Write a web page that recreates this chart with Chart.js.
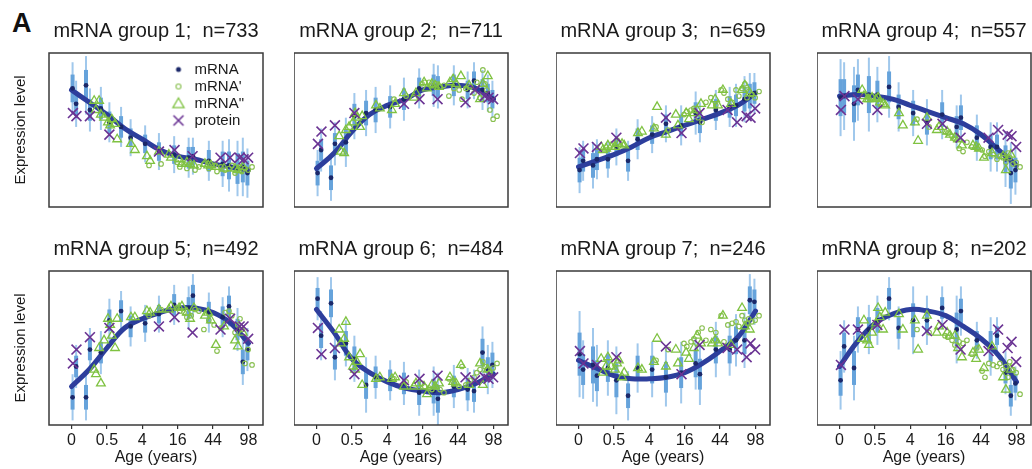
<!DOCTYPE html>
<html><head><meta charset="utf-8">
<script src="https://cdn.jsdelivr.net/npm/chart.js@4.4.1/dist/chart.umd.min.js"></script>
<style>
html,body{margin:0;padding:0;background:#fff;overflow:hidden;}
body{width:1032px;height:469px;position:relative;}
.panel{position:absolute;}
.panel canvas{display:block;}
#lbl{position:absolute;left:12px;top:10px;font:bold 27px "Liberation Sans",Arial,Helvetica,sans-serif;line-height:27px;color:#111;}
</style></head><body>
<div id="lbl">A</div>
<script>
// ---------- shared labels ----------
const ageTicks = ['0', '0.5', '4', '16', '44', '98'];
const seriesNames = ['mRNA', "mRNA'", 'mRNA"', 'protein'];
const groupSizes = [733, 711, 659, 557, 492, 484, 246, 202];

// ---------- sample positions on the age axis (tick units: 0 = "0" ... 5 = "98") ----------
const mrnaX  = [0.03, 0.13, 0.41, 0.52, 0.83, 1.07, 1.40, 1.67, 2.08, 2.47, 2.90, 3.31, 3.43, 3.88, 4.27, 4.45, 4.69, 4.84, 4.97];
const mrna1X = [2.19, 2.53, 2.98, 3.06, 3.18, 3.26, 3.38, 3.49, 3.60, 3.74, 3.88, 4.03, 4.11, 4.22, 4.34, 4.45, 4.53, 4.62, 4.70, 4.76, 4.81, 4.90, 4.99, 5.10];
const mrna2X = [0.64, 0.69, 0.78, 0.83, 0.92, 1.03, 1.09, 1.14, 1.23, 1.29, 1.68, 1.79, 2.13, 2.22, 2.47, 2.75, 2.81, 3.04, 3.12, 3.26, 3.35, 3.46, 3.77, 3.86, 3.94, 4.08, 4.31, 4.62, 4.70, 4.84];
const protX  = [0.04, 0.14, 0.52, 1.07, 2.47, 2.91, 3.42, 4.21, 4.48, 4.75, 4.86, 4.99];
const curveX = [0, 0.5, 1, 1.5, 2, 2.5, 3, 3.5, 4, 4.5, 5];

// ---------- group 1 ----------
const g1Mrna     = [77, 67, 79, 63, 64, 55, 52, 45, 41, 36, 34, 32, 33, 30, 28, 27, 25, 26, 22];
const g1ErrOuter = [17, 15, 19, 14, 14, 13, 13, 12, 12, 12, 12, 13, 12, 13, 15, 17, 18, 19, 16];
const g1ErrInner = [9, 8, 10, 7, 7, 7, 7, 6, 6, 6, 6, 7, 6, 7, 8, 9, 10, 10, 8];
const g1Mrna1    = [27, 28, 29, 26, 28, 25, 27, 24, 26, 28, 25, 27, 23, 26, 24, 25, 27, 22, 24, 26, 23, 25, 24, 26];
const g1Mrna2    = [69, 63, 69, 60, 58, 55, 53, 57, 54, 44, 41, 37, 33, 30, 36, 34, 32, 31, 28, 29, 28, 27, 28, 27, 27, 26, 25, 25, 24, 26];
const g1Prot     = [61, 59, 59, 47, 36, 37, 33, 32, 32, 32, 31, 32];
const g1Curve    = [76, 68, 60, 51, 44, 37, 33, 31, 28, 26, 24];
// ---------- group 2 ----------
const g2Mrna     = [22, 37, 19, 41, 42, 59, 61, 63, 65, 70, 77, 79, 78, 79, 76, 82, 76, 74, 70];
const g2ErrOuter = [15, 14, 15, 14, 16, 15, 15, 15, 14, 14, 13, 14, 14, 13, 12, 12, 13, 12, 12];
const g2ErrInner = [8, 7, 8, 7, 8, 8, 8, 8, 7, 7, 7, 7, 7, 7, 6, 6, 7, 6, 6];
const g2Mrna1    = [70, 72, 80, 81, 81, 79, 80, 78, 79, 72, 77, 76, 70, 77, 78, 74, 81, 71, 89, 80, 76, 63, 57, 59];
const g2Mrna2    = [46, 36, 35, 50, 52, 55, 61, 58, 52, 59, 66, 64, 63, 67, 74, 71, 74, 81, 77, 80, 79, 78, 81, 83, 80, 85, 79, 70, 80, 85];
const g2Prot     = [41, 49, 53, 61, 67, 70, 70, 68, 76, 72, 71, 70];
const g2Curve    = [25, 35, 49, 60, 66, 70, 76, 78, 79, 77, 70];
// ---------- group 3 ----------
const g3Mrna     = [24, 30, 27, 31, 31, 39, 30, 44, 47, 54, 53, 61, 55, 63, 65, 66, 70, 72, 74];
const g3ErrOuter = [15, 13, 15, 13, 12, 12, 13, 13, 12, 12, 13, 14, 13, 13, 13, 14, 15, 15, 13];
const g3ErrInner = [8, 7, 8, 7, 6, 6, 7, 7, 6, 6, 7, 7, 7, 7, 7, 7, 8, 8, 7];
const g3Mrna1    = [52, 50, 60, 62, 63, 64, 58, 55, 68, 71, 66, 76, 74, 70, 68, 76, 72, 77, 80, 71, 75, 73, 71, 75];
const g3Mrna2    = [39, 37, 38, 40, 39, 39, 42, 41, 41, 40, 48, 49, 51, 65, 47, 60, 53, 61, 57, 61, 63, 67, 66, 70, 66, 76, 67, 76, 79, 74];
const g3Prot     = [35, 38, 39, 45, 58, 48, 61, 63, 55, 59, 58, 64];
const g3Curve    = [26, 30, 34, 39, 45, 49, 53, 57, 61, 66, 74];
// ---------- group 4 ----------
const g4Mrna     = [71, 72, 67, 76, 73, 73, 78, 65, 61, 55, 60, 52, 58, 45, 39, 39, 31, 22, 24];
const g4ErrOuter = [25, 22, 24, 20, 24, 18, 20, 16, 15, 15, 16, 14, 15, 15, 16, 16, 18, 20, 16];
const g4ErrInner = [12, 11, 12, 10, 12, 9, 10, 8, 8, 8, 8, 7, 8, 8, 8, 8, 9, 10, 8];
const g4Mrna1    = [57, 52, 49, 48, 46, 44, 38, 36, 42, 39, 38, 37, 33, 36, 34, 31, 33, 32, 29, 35, 32, 28, 29, 26];
const g4Mrna2    = [76, 72, 70, 70, 71, 70, 71, 68, 67, 66, 61, 53, 55, 43, 58, 50, 52, 49, 47, 45, 44, 40, 40, 39, 38, 32, 35, 33, 24, 34];
const g4Prot     = [63, 72, 70, 63, 54, 54, 45, 45, 50, 47, 46, 39];
const g4Curve    = [72, 73, 72, 70, 66, 62, 58, 54, 47, 37, 27];
// ---------- group 5 ----------
const g5Mrna     = [18, 38, 18, 49, 47, 68, 74, 64, 66, 72, 78, 76, 84, 73, 70, 77, 62, 41, 49];
const g5ErrOuter = [15, 14, 15, 14, 14, 14, 13, 13, 12, 12, 13, 14, 14, 13, 13, 13, 14, 15, 14];
const g5ErrInner = [8, 7, 8, 7, 7, 7, 7, 7, 6, 6, 7, 7, 7, 7, 7, 7, 7, 8, 7];
const g5Mrna1    = [71, 75, 76, 74, 73, 70, 71, 75, 74, 62, 68, 65, 48, 63, 73, 74, 71, 60, 65, 69, 62, 40, 49, 39];
const g5Mrna2    = [36, 33, 50, 27, 55, 69, 65, 58, 50, 69, 70, 70, 74, 73, 75, 75, 77, 76, 77, 73, 69, 76, 71, 73, 68, 52, 64, 55, 51, 60];
const g5Prot     = [40, 49, 57, 63, 64, 70, 60, 62, 69, 64, 64, 56];
const g5Curve    = [25, 36, 50, 63, 69, 73, 76, 76, 73, 66, 53];
// ---------- group 6 ----------
const g6Mrna     = [82, 58, 79, 44, 53, 43, 26, 31, 29, 27, 21, 22, 17, 25, 23, 22, 47, 36, 39];
const g6ErrOuter = [14, 16, 17, 15, 15, 15, 18, 14, 13, 14, 15, 16, 17, 14, 14, 14, 17, 16, 15];
const g6ErrInner = [7, 8, 9, 8, 8, 8, 9, 7, 7, 7, 8, 8, 9, 7, 7, 7, 9, 8, 8];
const g6Mrna1    = [30, 28, 27, 25, 24, 23, 25, 23, 21, 30, 27, 25, 38, 26, 29, 31, 34, 36, 41, 38, 36, 34, 37, 40];
const g6Mrna2    = [62, 53, 56, 67, 44, 38, 36, 41, 46, 26, 30, 31, 30, 31, 25, 25, 27, 25, 20, 26, 25, 27, 31, 28, 27, 39, 26, 40, 26, 36];
const g6Prot     = [63, 46, 50, 33, 29, 30, 32, 31, 29, 31, 30, 31];
const g6Curve    = [75, 60, 43, 34, 28, 24, 22, 21, 23, 27, 33];
// ---------- group 7 ----------
const g7Mrna     = [46, 36, 39, 32, 37, 29, 19, 37, 36, 31, 34, 40, 33, 49, 49, 55, 55, 81, 80];
const g7ErrOuter = [28, 19, 24, 20, 18, 22, 16, 16, 18, 19, 20, 17, 20, 18, 17, 17, 18, 17, 15];
const g7ErrInner = [14, 10, 12, 10, 9, 11, 8, 8, 9, 10, 10, 9, 10, 9, 9, 9, 9, 9, 8];
const g7Mrna1    = [42, 49, 53, 51, 54, 56, 60, 63, 55, 62, 60, 71, 54, 65, 66, 67, 64, 71, 68, 66, 69, 67, 68, 71];
const g7Mrna2    = [43, 34, 38, 44, 38, 36, 40, 42, 31, 34, 37, 36, 41, 56, 38, 49, 40, 47, 43, 50, 58, 53, 53, 55, 53, 71, 52, 76, 64, 62];
const g7Prot     = [48, 40, 39, 44, 51, 33, 52, 50, 49, 44, 53, 49];
const g7Curve    = [42, 37, 32, 30, 30, 31, 34, 40, 48, 57, 74];
// ---------- group 8 ----------
const g8Mrna     = [29, 51, 37, 62, 62, 68, 82, 63, 68, 68, 76, 62, 74, 55, 51, 58, 34, 19, 27];
const g8ErrOuter = [19, 17, 21, 15, 16, 16, 14, 14, 22, 16, 14, 22, 16, 12, 19, 12, 14, 13, 11];
const g8ErrInner = [10, 9, 11, 8, 8, 8, 7, 7, 11, 8, 7, 11, 8, 6, 10, 6, 7, 7, 6];
const g8Mrna1    = [62, 60, 58, 57, 55, 52, 54, 53, 55, 46, 50, 35, 31, 40, 39, 38, 40, 36, 38, 31, 41, 36, 34, 20];
const g8Mrna2    = [56, 68, 55, 52, 60, 66, 76, 70, 62, 73, 72, 62, 68, 49, 71, 60, 64, 60, 58, 58, 50, 44, 47, 43, 49, 37, 51, 31, 23, 36];
const g8Prot     = [39, 62, 62, 65, 61, 65, 49, 48, 62, 50, 54, 41];
const g8Curve    = [38, 54, 66, 72, 75, 74, 71, 64, 56, 45, 28];

// ---------- assemble ----------
const groups = [
  {mrna: g1Mrna, eo: g1ErrOuter, ei: g1ErrInner, m1: g1Mrna1, m2: g1Mrna2, prot: g1Prot, curve: g1Curve},
  {mrna: g2Mrna, eo: g2ErrOuter, ei: g2ErrInner, m1: g2Mrna1, m2: g2Mrna2, prot: g2Prot, curve: g2Curve},
  {mrna: g3Mrna, eo: g3ErrOuter, ei: g3ErrInner, m1: g3Mrna1, m2: g3Mrna2, prot: g3Prot, curve: g3Curve},
  {mrna: g4Mrna, eo: g4ErrOuter, ei: g4ErrInner, m1: g4Mrna1, m2: g4Mrna2, prot: g4Prot, curve: g4Curve},
  {mrna: g5Mrna, eo: g5ErrOuter, ei: g5ErrInner, m1: g5Mrna1, m2: g5Mrna2, prot: g5Prot, curve: g5Curve},
  {mrna: g6Mrna, eo: g6ErrOuter, ei: g6ErrInner, m1: g6Mrna1, m2: g6Mrna2, prot: g6Prot, curve: g6Curve},
  {mrna: g7Mrna, eo: g7ErrOuter, ei: g7ErrInner, m1: g7Mrna1, m2: g7Mrna2, prot: g7Prot, curve: g7Curve},
  {mrna: g8Mrna, eo: g8ErrOuter, ei: g8ErrInner, m1: g8Mrna1, m2: g8Mrna2, prot: g8Prot, curve: g8Curve}
];

const FONT = '"Liberation Sans", Arial, Helvetica, sans-serif';
Chart.defaults.font.family = FONT;
Chart.defaults.color = '#1a1a1a';
const COL = {
  dot: '#1b2869', circ: '#88bf4f', tri: '#7fc241', prot: '#6a3393', curve: '#2d3e9c',
  errOuter: 'rgba(150,194,234,0.9)', errInner: '#66a3db', box: '#3a3a3a'
};

const panelPlugin = {
  id: 'panelDecor',
  beforeDatasetsDraw(chart) {
    const ds = chart.data.datasets.find(d => d.errBars);
    if (!ds) return;
    const {ctx, chartArea: a} = chart;
    const xs = chart.scales.x, ys = chart.scales.y;
    ctx.save();
    ctx.beginPath(); ctx.rect(a.left, a.top, a.width, a.height); ctx.clip();
    ctx.lineCap = 'butt';
    ctx.strokeStyle = COL.errOuter; ctx.lineWidth = 2;
    ds.data.forEach(p => {
      const px = xs.getPixelForValue(p.x);
      ctx.beginPath();
      ctx.moveTo(px, ys.getPixelForValue(p.y - p.eo));
      ctx.lineTo(px, ys.getPixelForValue(p.y + p.eo));
      ctx.stroke();
    });
    ctx.strokeStyle = COL.errInner; ctx.lineWidth = 4;
    ds.data.forEach(p => {
      const px = xs.getPixelForValue(p.x);
      ctx.beginPath();
      ctx.moveTo(px, ys.getPixelForValue(p.y - p.ei));
      ctx.lineTo(px, ys.getPixelForValue(p.y + p.ei));
      ctx.stroke();
    });
    ctx.restore();
  },
  afterDraw(chart) {
    const {ctx, chartArea: a} = chart;
    ctx.save();
    ctx.strokeStyle = COL.box; ctx.lineWidth = 1.5;
    ctx.strokeRect(a.left, a.top, a.width, a.height);
    ctx.restore();
  }
};

const boxLefts = [49, 294, 556, 817];

groups.forEach((g, i) => {
  const col = i % 4, row = Math.floor(i / 4);
  const isLeft = col === 0, isBottom = row === 1;
  const boxLeft = boxLefts[col];
  const left = isLeft ? 0 : boxLeft;
  const top = isBottom ? 218 : 0;
  const width = (boxLeft - left) + 214 + 3;
  const height = 53 + 154 + (isBottom ? 44 : 3);
  const div = document.createElement('div');
  div.className = 'panel';
  div.style.left = left + 'px'; div.style.top = top + 'px';
  div.style.width = width + 'px'; div.style.height = height + 'px';
  const cv = document.createElement('canvas');
  cv.width = width; cv.height = height;
  cv.style.width = width + 'px'; cv.style.height = height + 'px';
  div.appendChild(cv);
  document.body.appendChild(div);

  new Chart(cv, {
    type: 'scatter',
    data: {
      datasets: [
        {label: seriesNames[3], data: protX.map((x, k) => ({x, y: g.prot[k]})),
         pointStyle: 'crossRot', pointRadius: 7, borderColor: COL.prot, backgroundColor: COL.prot, borderWidth: 1.6, order: 1},
        {label: seriesNames[2], data: mrna2X.map((x, k) => ({x, y: g.m2[k]})),
         pointStyle: 'triangle', pointRadius: 5, borderColor: COL.tri, backgroundColor: 'rgba(255,255,255,0)', borderWidth: 1.3, order: 2},
        {label: seriesNames[1], data: mrna1X.map((x, k) => ({x, y: g.m1[k]})),
         pointStyle: 'circle', pointRadius: 2.3, borderColor: COL.circ, backgroundColor: 'rgba(255,255,255,0)', borderWidth: 1.1, order: 3},
        {label: seriesNames[0], errBars: true, data: mrnaX.map((x, k) => ({x, y: g.mrna[k], eo: g.eo[k], ei: g.ei[k]})),
         pointStyle: 'circle', pointRadius: 2.4, borderColor: COL.dot, backgroundColor: COL.dot, borderWidth: 0, order: 4},
        {type: 'line', label: 'fit', data: curveX.map((x, k) => ({x, y: g.curve[k]})),
         borderColor: COL.curve, borderWidth: 5, pointRadius: 0, tension: 0.4, fill: false, order: 5, borderCapStyle: 'round'}
      ]
    },
    options: {
      responsive: false, animation: false, events: [],
      layout: {autoPadding: false, padding: {left: 0, top: 0, right: 3, bottom: isBottom ? 0 : 3}},
      plugins: {
        legend: {display: false}, tooltip: {enabled: false},
        title: {
          display: true, fullSize: false,
          text: 'mRNA group ' + (i + 1) + ';  n=' + groupSizes[i],
          font: {size: 20, weight: 'normal'}, color: '#1a1a1a',
          padding: {top: 19, bottom: 10}
        }
      },
      scales: {
        x: {
          type: 'linear', min: -0.636, max: 5.41, display: isBottom,
          afterBuildTicks: s => { s.ticks = ageTicks.map((t, k) => ({value: k})); },
          afterFit: s => { s.height = isBottom ? 44 : 0; },
          ticks: {autoSkip: false, maxRotation: 0, minRotation: 0, padding: 2, font: {size: 16}, color: '#1a1a1a',
                  callback: (v, k) => ageTicks[k]},
          grid: {display: true, drawOnChartArea: false, drawTicks: true, tickLength: 4, color: '#333', lineWidth: 1.2},
          border: {display: false},
          title: {display: true, text: 'Age (years)', font: {size: 16}, color: '#1a1a1a', padding: {top: 0, bottom: 2}}
        },
        y: {
          type: 'linear', min: 0, max: 100, display: isLeft,
          afterFit: s => { s.width = isLeft ? 49 : 0; },
          ticks: {display: false}, grid: {display: false}, border: {display: false},
          title: {display: true, text: 'Expression level', font: {size: 15}, color: '#1a1a1a', padding: {top: 12, bottom: 0}}
        }
      }
    },
    plugins: [panelPlugin]
  });
});

// ---------- legend (inside panel 1) ----------
function icon(kind) {
  const c = document.createElement('canvas');
  c.width = 16; c.height = 16;
  const x = c.getContext('2d');
  x.translate(8, 8);
  if (kind === 0) { x.fillStyle = COL.dot; x.beginPath(); x.arc(0, 0, 2.5, 0, Math.PI * 2); x.fill(); }
  if (kind === 1) { x.strokeStyle = COL.circ; x.lineWidth = 1.1; x.beginPath(); x.arc(0, 0, 2.5, 0, Math.PI * 2); x.stroke(); }
  if (kind === 2) { x.strokeStyle = COL.tri; x.lineWidth = 1.3; x.beginPath(); x.moveTo(0, -5.5); x.lineTo(5.6, 4.2); x.lineTo(-5.6, 4.2); x.closePath(); x.stroke(); }
  if (kind === 3) { x.strokeStyle = COL.prot; x.lineWidth = 1.6; x.beginPath(); x.moveTo(-5, -5); x.lineTo(5, 5); x.moveTo(5, -5); x.lineTo(-5, 5); x.stroke(); }
  return c;
}
const icons = [0, 1, 2, 3].map(icon);
(function () {
  const div = document.createElement('div');
  div.className = 'panel';
  div.style.left = '168px'; div.style.top = '60px';
  div.style.width = '200px'; div.style.height = '76px';
  const cv = document.createElement('canvas');
  cv.width = 200; cv.height = 76; cv.style.width = '200px'; cv.style.height = '76px';
  div.appendChild(cv);
  document.body.appendChild(div);
  new Chart(cv, {
    type: 'scatter',
    data: {datasets: seriesNames.map(n => ({label: n, data: []}))},
    options: {
      responsive: false, animation: false, events: [],
      layout: {padding: 0},
      scales: {x: {display: false}, y: {display: false}},
      plugins: {
        tooltip: {enabled: false},
        legend: {
          display: true, position: 'left', align: 'start',
          labels: {
            usePointStyle: true, pointStyleWidth: 17, padding: 2,
            font: {size: 15}, color: '#1a1a1a',
            generateLabels: () => seriesNames.map((t, k) => ({
              text: t, pointStyle: icons[k], fillStyle: 'rgba(0,0,0,0)', strokeStyle: 'rgba(0,0,0,0)',
              lineWidth: 0, hidden: false, datasetIndex: k, fontColor: '#1a1a1a'
            }))
          }
        }
      }
    }
  });
})();
</script>
</body></html>
